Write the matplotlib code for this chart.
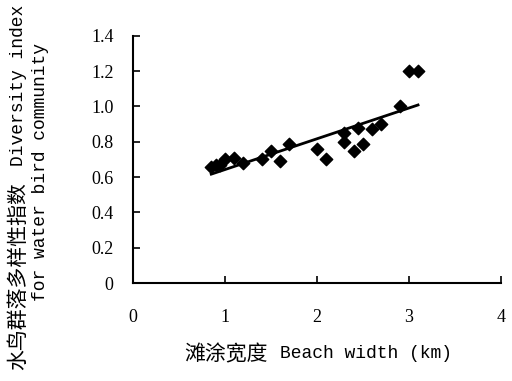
import numpy as np
import matplotlib
matplotlib.use("Agg")
import matplotlib.pyplot as plt

# beach width (km) vs diversity index
width = [0.85, 0.9, 0.95, 1.0, 1.1, 1.2, 1.4, 1.5, 1.6, 1.7, 2.0, 2.1,
         2.3, 2.3, 2.4, 2.45, 2.5, 2.6, 2.7, 2.9, 3.0, 3.1]
diversity = [0.66, 0.67, 0.67, 0.70, 0.71, 0.68, 0.70, 0.75, 0.69, 0.79, 0.76, 0.70,
             0.85, 0.80, 0.75, 0.88, 0.79, 0.87, 0.90, 1.00, 1.20, 1.20]
xticks = [0, 1, 2, 3, 4]
yticks = [0, 0.2, 0.4, 0.6, 0.8, 1.0, 1.2, 1.4]
ytick_labels = ["0", "0.2", "0.4", "0.6", "0.8", "1.0", "1.2", "1.4"]

mono = "Liberation Mono"
cjk = "Noto Sans CJK SC"

fig = plt.figure(figsize=(5.12, 3.81), dpi=100)
ax = fig.add_axes([0.26, 0.257, 0.718, 0.649])

ax.scatter(width, diversity, marker="D", s=40, color="black", zorder=3)

k, b = np.polyfit(width, diversity, 1)
xl = np.array([min(width), max(width)])
ax.plot(xl, k * xl + b, color="black", lw=2)

ax.set_xlim(0, 4)
ax.set_ylim(0, 1.4)
ax.set_xticks(xticks)
ax.set_yticks(yticks)
ax.set_yticklabels(ytick_labels)
for s in ["top", "right"]:
    ax.spines[s].set_visible(False)
for s in ["left", "bottom"]:
    ax.spines[s].set_linewidth(1.5)
ax.tick_params(direction="in", length=5, width=1.2)
ax.tick_params(axis="x", pad=19)
ax.tick_params(axis="y", pad=14)
for t in ax.get_xticklabels() + ax.get_yticklabels():
    t.set_fontfamily("Liberation Serif")
    t.set_fontsize(13)

# x label: chinese part + english part
fig.text(268 / 512, 1 - 354 / 381, "滩涂宽度", family=cjk, fontsize=15,
         ha="right", va="center")
fig.text(280 / 512, 1 - 354 / 381, "Beach width (km)", family=mono, fontsize=13,
         ha="left", va="center")

# y label, two lines
fig.text(18 / 512, 1 - 370 / 381, "水鸟群落多样性指数", family=cjk, fontsize=15,
         rotation=90, ha="center", va="bottom")
fig.text(19 / 512, 1 - 5 / 381, "Diversity index", family=mono, fontsize=13,
         rotation=90, ha="center", va="top")
fig.text(41 / 512, 1 - 172 / 381, "for water bird community", family=mono, fontsize=13,
         rotation=90, ha="center", va="center")

fig.savefig("out.png", dpi=100)
